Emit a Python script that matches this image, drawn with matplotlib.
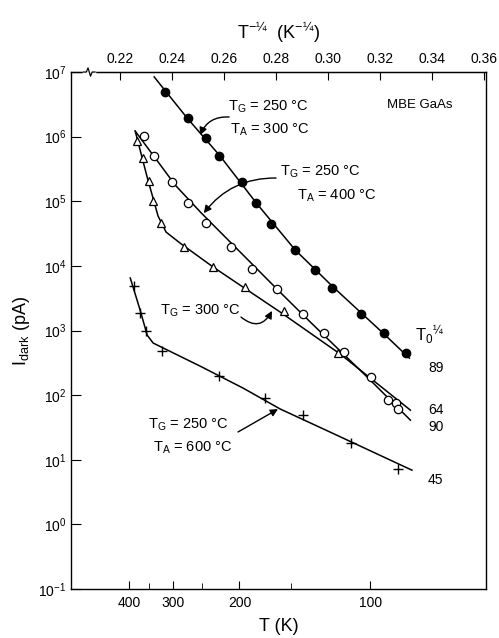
import numpy as np
import matplotlib
matplotlib.use("Agg")
from matplotlib import pyplot as plt
from matplotlib.ticker import NullLocator, LogLocator

plt.rcParams['font.family'] = ['Liberation Sans', 'DejaVu Sans']
plt.rcParams['mathtext.fontset'] = 'custom'
plt.rcParams['mathtext.rm'] = 'Liberation Sans'
plt.rcParams['mathtext.it'] = 'Liberation Sans:italic'
plt.rcParams['mathtext.default'] = 'regular'

# x = T^-1/4 (K^-1/4), y = I_dark (pA)
# TG = 250 C, TA = 300 C (filled circles)
x_a300 = [0.2373, 0.2461, 0.2531, 0.2582, 0.2669, 0.2724, 0.2780, 0.2874, 0.2948, 0.3017, 0.3127, 0.3214, 0.3300]
y_a300 = [4.9e6, 1.92e6, 9.4e5, 5.0e5, 2.0e5, 9.3e4, 4.5e4, 1.76e4, 8.6e3, 4.6e3, 1.77e3, 920, 450]
xl_a300 = [0.2331, 0.2458, 0.2585, 0.2724, 0.2874, 0.3020, 0.3212, 0.3313]
yl_a300 = [8.4e6, 1.94e6, 5.0e5, 9.4e4, 1.76e4, 4.7e3, 910, 374]

# TG = 250 C, TA = 400 C (open circles)
x_a400 = [0.2290, 0.2332, 0.2401, 0.2461, 0.2531, 0.2626, 0.2707, 0.2804, 0.2903, 0.2983, 0.3060, 0.3165, 0.3229, 0.3261, 0.3269]
y_a400 = [1.01e6, 5.0e5, 1.96e5, 9.3e4, 4.55e4, 1.98e4, 8.9e3, 4.4e3, 1.77e3, 920, 468, 192, 84, 76, 61]
xl_a400 = [0.2258, 0.2335, 0.2412, 0.2512, 0.2700, 0.2816, 0.2932, 0.3147, 0.3317]
yl_a400 = [1.22e6, 4.67e5, 1.78e5, 6.6e4, 1.15e4, 3.9e3, 1.35e3, 197, 41]

# TG = 300 C (open triangles)
x_g300 = [0.2264, 0.2287, 0.2313, 0.2328, 0.2357, 0.2444, 0.2557, 0.2679, 0.2829, 0.3038]
y_g300 = [8.55e5, 4.6e5, 2.07e5, 1.02e5, 4.65e4, 1.98e4, 9.7e3, 4.65e3, 2.0e3, 452]
xl_g300 = [0.2258, 0.2304, 0.2346, 0.2377, 0.2431, 0.2558, 0.2816, 0.3047, 0.3317]
yl_g300 = [1.22e6, 2.37e5, 5.9e4, 3.33e4, 2.25e4, 9.6e3, 1.93e3, 432, 58.6]

# TG = 250 C, TA = 600 C (crosses)
x_a600 = [0.2254, 0.2277, 0.2299, 0.2363, 0.2582, 0.2758, 0.2902, 0.3089, 0.3269]
y_a600 = [4.9e3, 1.9e3, 990, 485, 197, 89, 49, 17.9, 7.1]
xl_a600 = [0.2239, 0.2277, 0.2304, 0.2327, 0.2508, 0.2674, 0.2816, 0.3009, 0.3323]
yl_a600 = [6.5e3, 2.07e3, 850, 640, 281, 128, 61, 26.7, 6.9]

t0_labels = ["89", "64", "90", "45"]
top_ticks = [0.22, 0.24, 0.26, 0.28, 0.30, 0.32, 0.34, 0.36]
T_major = [400, 300, 200, 100]
T_minor = [350, 250, 150]

fig = plt.figure(figsize=(4.99, 6.38), dpi=100)
ax = fig.add_axes([0.1423, 0.0768, 0.8317, 0.8103])
ax.set_yscale('log')
ax.set_xlim(0.2011, 0.3608)
ax.set_ylim(1e-1, 1e7)

lw = 1.1
ax.plot(xl_a300, yl_a300, color='k', lw=lw)
ax.plot(xl_a400, yl_a400, color='k', lw=lw)
ax.plot(xl_g300, yl_g300, color='k', lw=lw)
ax.plot(xl_a600, yl_a600, color='k', lw=lw)
ax.plot(x_a300, y_a300, 'o', color='k', ms=6, ls='none')
ax.plot(x_a400, y_a400, 'o', mfc='white', mec='k', mew=0.9, ms=6, ls='none')
ax.plot(x_g300, y_g300, '^', mfc='white', mec='k', mew=0.9, ms=6, ls='none')
ax.plot(x_a600, y_a600, '+', color='k', mew=1.0, ms=7, ls='none')

# bottom axis: temperature
ax.set_xticks(np.array(T_major, dtype=float) ** -0.25)
ax.set_xticklabels([str(t) for t in T_major])
ax.set_xticks(np.array(T_minor, dtype=float) ** -0.25, minor=True)
ax.set_xlabel("T (K)", fontsize=13, labelpad=6)
ax.tick_params(axis='x', which='major', direction='in', length=6, labelsize=10, pad=5)
ax.tick_params(axis='x', which='minor', direction='in', length=4)

# top axis: T^-1/4
sec = ax.secondary_xaxis('top')
sec.set_xticks(top_ticks)
sec.set_xticklabels(["%.2f" % v for v in top_ticks])
sec.tick_params(direction='in', length=6, labelsize=10, pad=4)
sec.set_xlabel("T$^{-¼}$  (K$^{-¼}$)", fontsize=13, labelpad=10)

ax.yaxis.set_major_locator(LogLocator(base=10, numticks=20))
ax.yaxis.set_minor_locator(NullLocator())
ax.tick_params(axis='y', direction='in', length=7, labelsize=10)
ax.set_ylabel("I$_{dark}$ (pA)", fontsize=13, labelpad=4)

for s in ax.spines.values():
    s.set_linewidth(1.0)

# axis break on top-left
ax.add_patch(plt.Rectangle((0.030, 0.99), 0.028, 0.02, transform=ax.transAxes,
                           color='white', clip_on=False, zorder=5))
ax.plot([0.030, 0.037, 0.041, 0.047, 0.051, 0.058], [1.0, 1.0, 1.008, 0.992, 1.0, 1.0],
        transform=ax.transAxes, color='k', lw=0.9, clip_on=False, zorder=6)

fs = 10.5
ax.text(0.378, 0.932, "T$_G$ = 250 °C", transform=ax.transAxes, fontsize=fs, va='center')
ax.text(0.383, 0.888, "T$_A$ = 300 °C", transform=ax.transAxes, fontsize=fs, va='center')
ax.text(0.504, 0.807, "T$_G$ = 250 °C", transform=ax.transAxes, fontsize=fs, va='center')
ax.text(0.545, 0.760, "T$_A$ = 400 °C", transform=ax.transAxes, fontsize=fs, va='center')
ax.text(0.2145, 0.538, "T$_G$ = 300 °C", transform=ax.transAxes, fontsize=fs, va='center')
ax.text(0.1855, 0.317, "T$_G$ = 250 °C", transform=ax.transAxes, fontsize=fs, va='center')
ax.text(0.1976, 0.273, "T$_A$ = 600 °C", transform=ax.transAxes, fontsize=fs, va='center')
ax.text(0.7614, 0.936, "MBE GaAs", transform=ax.transAxes, fontsize=9.5, va='center')

ax.text(0.829, 0.491, "T$_0{}^{¼}$", transform=ax.transAxes, fontsize=12, va='center')
for lab, yy in zip(t0_labels, [0.427, 0.346, 0.313, 0.211]):
    ax.text(0.860, yy, lab, transform=ax.transAxes, fontsize=10, va='center')

arrow = dict(arrowstyle='-|>', color='k', lw=1.0, mutation_scale=11, shrinkA=0, shrinkB=0)
ax.annotate("", xy=(0.311, 0.878), xytext=(0.381, 0.913), xycoords='axes fraction',
            arrowprops=dict(arrow, connectionstyle='arc3,rad=0.35'))
ax.annotate("", xy=(0.320, 0.727), xytext=(0.494, 0.795), xycoords='axes fraction',
            arrowprops=dict(arrow, connectionstyle='arc3,rad=0.25'))
ax.annotate("", xy=(0.4843, 0.538), xytext=(0.4096, 0.526), xycoords='axes fraction',
            arrowprops=dict(arrow, connectionstyle='arc3,rad=0.6'))
ax.annotate("", xy=(0.4988, 0.348), xytext=(0.4024, 0.3037), xycoords='axes fraction',
            arrowprops=dict(arrow))

fig.savefig("out.png", dpi=100)
